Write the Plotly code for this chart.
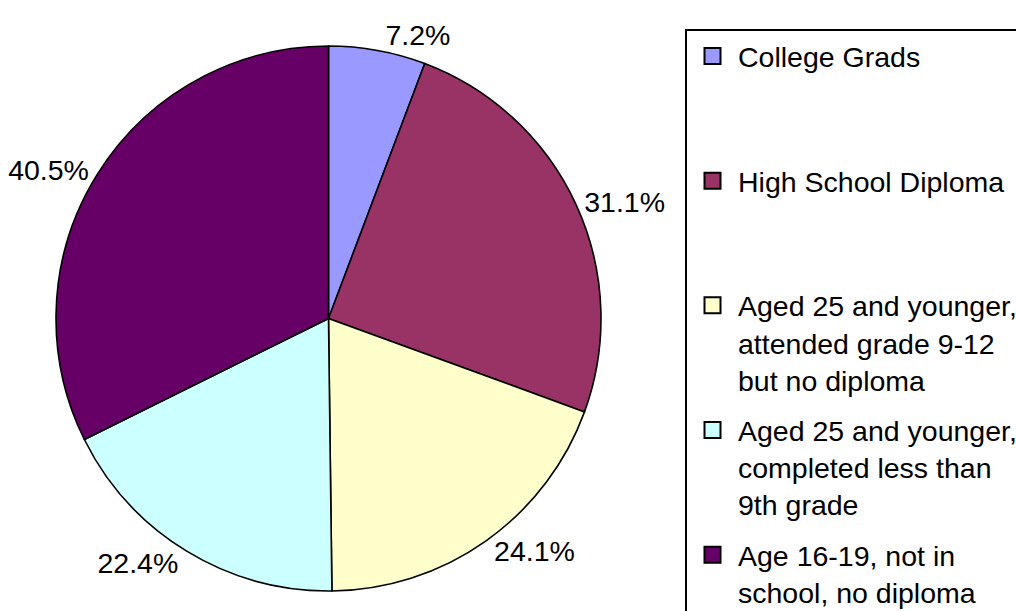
import plotly.graph_objects as go

categories = [
    "College Grads",
    "High School Diploma",
    "Aged 25 and younger, attended grade 9-12 but no diploma",
    "Aged 25 and younger, completed less than 9th grade",
    "Age 16-19, not in school, no diploma",
]
legend_lines = [
    ["College Grads"],
    ["High School Diploma"],
    ["Aged 25 and younger,", "attended grade 9-12", "but no diploma"],
    ["Aged 25 and younger,", "completed less than", "9th grade"],
    ["Age 16-19, not in", "school, no diploma"],
]
values = [7.2, 31.1, 24.1, 22.4, 40.5]
colors = ["#9999FF", "#993366", "#FFFFCC", "#CCFFFF", "#660066"]

# figure is a little larger than the 1016x611 window so the legend
# can run past the right/bottom edges, as in the reference
W, H = 1040, 640
FONT = "Arial, Liberation Sans, sans-serif"


def fx(px):
    return px / W


def fy(py):
    return (H - py) / H


def legend_text(lines, i, n):
    lines = list(lines)
    if i < n - 1:
        while len(lines) < 3:
            lines.append(" ")
    return "<br>".join(lines)


fig = go.Figure()
fig.add_trace(go.Pie(
    labels=categories,
    values=values,
    sort=False,
    direction="clockwise",
    rotation=0,
    marker=dict(colors=colors, line=dict(color="black", width=1.6)),
    textposition="outside",
    texttemplate="%{value}%",
    textfont=dict(size=28.5, color="black", family=FONT),
    showlegend=False,
    hoverinfo="label+value",
    domain=dict(x=[fx(56), fx(601)], y=[fy(591), fy(46)]),
))

for i, (lines, col) in enumerate(zip(legend_lines, colors)):
    fig.add_trace(go.Scatter(
        x=[None], y=[None], mode="markers",
        name=legend_text(lines, i, len(legend_lines)),
        legendgroup=f"g{i}",
        marker=dict(symbol="square", size=16, color=col,
                    line=dict(color="black", width=2)),
        hoverinfo="skip",
    ))

fig.update_layout(
    width=W, height=H,
    margin=dict(l=0, r=0, t=0, b=0, autoexpand=False),
    paper_bgcolor="white", plot_bgcolor="white",
    xaxis=dict(visible=False), yaxis=dict(visible=False),
    showlegend=True,
    legend=dict(
        x=fx(685), xanchor="left", y=fy(29), yanchor="top",
        bordercolor="black", borderwidth=2, bgcolor="white",
        font=dict(size=28.5, color="black", family=FONT),
        valign="top", itemwidth=41, tracegroupgap=10.5,
        traceorder="grouped", maxheight=2000,
    ),
)

fig.write_html(
    "out.html",
    config={"displayModeBar": False},
    post_script="document.body.style.margin='0';"
                "document.documentElement.style.overflow='hidden';"
                "document.body.style.overflow='hidden';",
)
